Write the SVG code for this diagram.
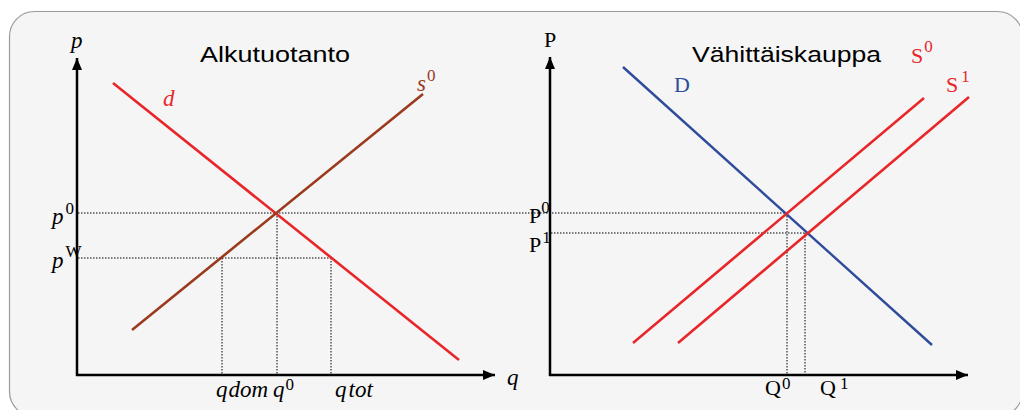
<svg xmlns="http://www.w3.org/2000/svg" width="1020" height="410" viewBox="0 0 1020 410">
<defs>
<marker id="arr" markerUnits="userSpaceOnUse" markerWidth="12" markerHeight="10" refX="12" refY="5" orient="auto" viewBox="0 0 12 10">
<path d="M0,0 L12,5 L0,10 z" fill="#000"/>
</marker>
</defs>
<style>
.axis{stroke:#000;stroke-width:2.5;fill:none}
.dot{stroke:#000;stroke-width:1;stroke-dasharray:1.5,1.5;fill:none}
.red{stroke:#e8262a;stroke-width:2.6;fill:none}
.brown{stroke:#9b3a1e;stroke-width:2.6;fill:none}
.blue{stroke:#2f4b9c;stroke-width:2.4;fill:none}
.title{font-family:"Liberation Sans",Arial,sans-serif;font-size:22px;fill:#000}
.it{font-family:"Liberation Serif","Times New Roman",serif;font-style:italic;font-size:23px;fill:#000}
.rm{font-family:"Liberation Serif","Times New Roman",serif;font-size:22px;fill:#000}
.sup{font-style:normal;font-size:17px}
</style>
<rect x="9.5" y="11.5" width="1013" height="405" rx="25" fill="#f5f5f5" stroke="#9a9a9a" stroke-width="1.2"/>

<g id="connectors">
<line class="axis" x1="77" y1="376" x2="77" y2="58" marker-end="url(#arr)"/>
<line class="axis" x1="76" y1="375" x2="495" y2="375" marker-end="url(#arr)"/>
<line class="axis" x1="550" y1="376" x2="550" y2="57" marker-end="url(#arr)"/>
<line class="axis" x1="549" y1="375" x2="968" y2="375" marker-end="url(#arr)"/>

<line class="dot" x1="78" y1="213" x2="787" y2="213"/>
<line class="dot" x1="78" y1="258" x2="331" y2="258"/>
<line class="dot" x1="222" y1="258" x2="222" y2="375"/>
<line class="dot" x1="277" y1="213" x2="277" y2="375"/>
<line class="dot" x1="331" y1="258" x2="331" y2="375"/>
<line class="dot" x1="551" y1="233" x2="805" y2="233"/>
<line class="dot" x1="787" y1="213" x2="787" y2="375"/>
<line class="dot" x1="805" y1="233" x2="805" y2="375"/>

<line class="red" x1="113" y1="83" x2="459" y2="360"/>
<line class="brown" x1="132" y1="330" x2="423" y2="94"/>
<line class="blue" x1="623" y1="67" x2="932" y2="345"/>
<line class="red" x1="633" y1="343" x2="924" y2="98"/>
<line class="red" x1="678" y1="343" x2="969" y2="97"/>
</g>

<g id="title-left"><text class="title" x="200" y="62" textLength="150" lengthAdjust="spacingAndGlyphs">Alkutuotanto</text></g>
<g id="title-right"><text class="title" x="692" y="62" textLength="189" lengthAdjust="spacingAndGlyphs">Vähittäiskauppa</text></g>

<g id="label-p"><text class="it" x="71" y="48">p</text></g>
<g id="label-d"><text class="it" x="163" y="106" style="fill:#e8262a">d</text></g>
<g id="label-s0"><text class="it" x="417" y="91" style="fill:#9b3a1e">s<tspan class="sup" dx="1" dy="-10">0</tspan></text></g>
<g id="label-p0"><text class="it" x="52" y="224">p<tspan class="sup" dx="2" dy="-10">0</tspan></text></g>
<g id="label-pW"><text class="it" x="52" y="268">p<tspan class="sup" dx="2" dy="-11">W</tspan></text></g>
<g id="label-q"><text class="it" x="507" y="385">q</text></g>
<g id="label-qdom"><text class="it" x="216" y="397">q<tspan dx="1">dom</tspan></text></g>
<g id="label-q0"><text class="it" x="273" y="397">q<tspan class="sup" dx="1" dy="-7">0</tspan></text></g>
<g id="label-qtot"><text class="it" x="335" y="397">q<tspan dx="2">tot</tspan></text></g>

<g id="label-P"><text class="rm" x="544" y="47">P</text></g>
<g id="label-D"><text class="rm" x="674" y="92" style="fill:#2f4b9c">D</text></g>
<g id="label-S0"><text class="rm" x="911" y="63" style="fill:#e8262a">S<tspan class="sup" dx="1" dy="-11">0</tspan></text></g>
<g id="label-S1"><text class="rm" x="946" y="92" style="fill:#e8262a">S<tspan class="sup" dx="3" dy="-10">1</tspan></text></g>
<g id="label-P0"><text class="rm" x="529" y="223">P<tspan class="sup" dx="0" dy="-10">0</tspan></text></g>
<g id="label-P1"><text class="rm" x="529" y="252">P<tspan class="sup" dx="1" dy="-9">1</tspan></text></g>
<g id="label-Q0"><text class="rm" x="765" y="395">Q<tspan class="sup" dx="1" dy="-6">0</tspan></text></g>
<g id="label-Q1"><text class="rm" x="820" y="395">Q<tspan class="sup" dx="4" dy="-6">1</tspan></text></g>
</svg>
